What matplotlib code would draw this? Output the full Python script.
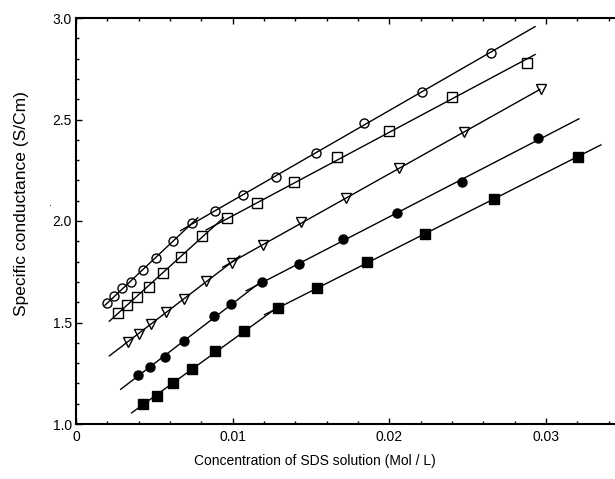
import matplotlib

matplotlib.use("Agg")
import numpy as np
import matplotlib.pyplot as plt
from matplotlib.ticker import MultipleLocator, FuncFormatter

plt.rcParams["font.family"] = ["Liberation Sans", "DejaVu Sans"]

# Conductance data, one series per temperature
x_circle = [0.0020, 0.00244, 0.00295, 0.00351, 0.00426, 0.00511, 0.00616, 0.00738,
            0.00887, 0.01064, 0.01278, 0.01533, 0.01838, 0.02208, 0.02648]
y_circle = [1.597, 1.630, 1.668, 1.700, 1.759, 1.819, 1.900, 1.989,
            2.047, 2.128, 2.218, 2.334, 2.485, 2.635, 2.830]

x_square = [0.00265, 0.00325, 0.00387, 0.00466, 0.00557, 0.00667, 0.00804,
            0.00962, 0.01157, 0.01391, 0.01666, 0.01999, 0.02399, 0.02878]
y_square = [1.548, 1.586, 1.628, 1.675, 1.745, 1.824, 1.924,
            2.016, 2.087, 2.194, 2.313, 2.443, 2.611, 2.780]

x_tri = [0.00334, 0.0040, 0.00479, 0.00576, 0.00691, 0.0083, 0.00996,
         0.01193, 0.01434, 0.01723, 0.02063, 0.02476, 0.02968]
y_tri = [1.405, 1.445, 1.494, 1.553, 1.617, 1.704, 1.795,
         1.882, 1.994, 2.112, 2.260, 2.440, 2.649]

x_dot = [0.00398, 0.00475, 0.00571, 0.00687, 0.00881, 0.00989,
         0.01185, 0.01424, 0.01701, 0.0205, 0.02461, 0.0295]
y_dot = [1.241, 1.281, 1.332, 1.411, 1.530, 1.590,
         1.698, 1.787, 1.909, 2.038, 2.194, 2.407]

x_box = [0.00429, 0.00517, 0.00621, 0.00743, 0.0089, 0.01072,
         0.01287, 0.01541, 0.01855, 0.02225, 0.02668, 0.03202]
y_box = [1.100, 1.140, 1.200, 1.269, 1.362, 1.460,
         1.569, 1.668, 1.798, 1.937, 2.107, 2.317]

# index of the point where the pre-/post-micellar fits meet
breaks = [7, 6, 6, 6, 6]
# x range covered by the two fitted lines
fit_start = [0.00185, 0.00213, 0.00213, 0.00285, 0.00355]
fit_end = [0.0293, 0.0293, 0.0296, 0.0321, 0.0335]

series = [
    (x_circle, y_circle, dict(marker="o", mfc="none", ms=6.5)),
    (x_square, y_square, dict(marker="s", mfc="none", ms=7)),
    (x_tri, y_tri, dict(marker="v", mfc="none", ms=7)),
    (x_dot, y_dot, dict(marker="o", mfc="black", ms=6.5)),
    (x_box, y_box, dict(marker="s", mfc="black", ms=6.5)),
]

fig = plt.figure(figsize=(6.15, 4.79), dpi=100)
ax = fig.add_axes([76 / 615, 1 - 424 / 479, 1 - 76 / 615, (424 - 18) / 479])

for i, (xs, ys, style) in enumerate(series):
    xs = np.array(xs)
    ys = np.array(ys)
    b = breaks[i]
    p1 = np.polyfit(xs[: b + 1], ys[: b + 1], 1)
    p2 = np.polyfit(xs[b:], ys[b:], 1)
    xc = (p2[1] - p1[1]) / (p1[0] - p2[0])
    seg1 = np.array([fit_start[i], xc + 0.0005])
    seg2 = np.array([xc - 0.0006, fit_end[i]])
    ax.plot(seg1, np.polyval(p1, seg1), color="black", lw=1.0)
    ax.plot(seg2, np.polyval(p2, seg2), color="black", lw=1.0)
    ax.plot(xs, ys, ls="none", mec="black", mew=1.0, zorder=3, **style)

ax.set_xlim(0, 0.0344)
ax.set_ylim(1.0, 3.0)
ax.xaxis.set_major_locator(MultipleLocator(0.01))
ax.xaxis.set_minor_locator(MultipleLocator(0.002))
ax.yaxis.set_major_locator(MultipleLocator(0.5))
ax.yaxis.set_minor_locator(MultipleLocator(0.1))
ax.xaxis.set_major_formatter(FuncFormatter(lambda v, p: "%g" % round(v, 4)))
ax.yaxis.set_major_formatter(FuncFormatter(lambda v, p: "%.1f" % v))
ax.tick_params(which="both", direction="in", top=True, right=False,
               labelsize=10, width=1.0)
ax.tick_params(which="major", length=4)
ax.tick_params(which="minor", length=2.5)
ax.tick_params(axis="x", pad=4)
ax.tick_params(axis="y", pad=3)
ax.spines["right"].set_visible(False)
for s in ["left", "top", "bottom"]:
    ax.spines[s].set_linewidth(1.5)

ax.set_xlabel("Concentration of SDS solution (Mol / L)", fontsize=10)
ax.xaxis.set_label_coords((315 - 76) / 539, -0.075)
ax.set_ylabel("Specific conductance (S/Cm)", fontsize=12.5)
ax.yaxis.set_label_coords(-0.088, 0.544)
fig.text(50 / 615, 1 - 203 / 479, ".", fontsize=8, ha="center", va="center")

fig.savefig("out.png", dpi=100)
